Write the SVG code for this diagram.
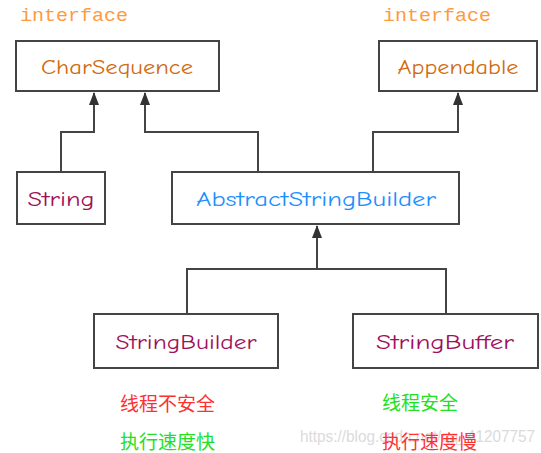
<svg xmlns="http://www.w3.org/2000/svg" width="541" height="453" viewBox="0 0 541 453">
<style>
.box{fill:#fff;stroke:#444;stroke-width:2}
.lbl{font-family:"Comic Neue","Liberation Sans","Noto Sans",sans-serif;font-size:21px;text-anchor:middle;dominant-baseline:central}
.iface{font-family:"Liberation Mono","DejaVu Sans Mono",monospace;font-size:19px;fill:#ff9a3c}
.ln{fill:none;stroke:#444;stroke-width:2}
.cn{font-family:"Noto Sans CJK SC",sans-serif;font-size:19px;dominant-baseline:central}
</style>
<defs>
<marker id="arr" viewBox="0 0 13 10" refX="12" refY="5" markerWidth="13" markerHeight="10" markerUnits="userSpaceOnUse" orient="auto">
<path d="M0,0 L13,5 L0,10 Z" fill="#333"/>
</marker>
</defs>
<rect width="541" height="453" fill="#fff"/>
<text x="300" y="436" font-family="Liberation Sans,sans-serif" font-size="16" fill="#d8d8d8" textLength="235" lengthAdjust="spacingAndGlyphs" dominant-baseline="central" opacity="0.9">https://blog.csdn.net/qq_41207757</text>
<g id="connectors">
<path class="ln" d="M61,172 V132 H94 V93" marker-end="url(#arr)"/>
<path class="ln" d="M258,172 V132 H145 V93" marker-end="url(#arr)"/>
<path class="ln" d="M373,172 V132 H458 V93" marker-end="url(#arr)"/>
<path class="ln" d="M187,314 V269 H446 V314"/>
<path class="ln" d="M317,269 V226" marker-end="url(#arr)"/>
</g>
<g id="CharSequence">
<text class="iface" x="20" y="21" textLength="108" lengthAdjust="spacingAndGlyphs">interface</text>
<rect class="box" x="16" y="41" width="203" height="50"/>
<text class="lbl" x="117" y="67" fill="#d06a10" textLength="152" lengthAdjust="spacingAndGlyphs">CharSequence</text>
</g>
<g id="Appendable">
<text class="iface" x="383" y="21" textLength="108" lengthAdjust="spacingAndGlyphs">interface</text>
<rect class="box" x="379" y="41" width="158" height="50"/>
<text class="lbl" x="458" y="67" fill="#d06a10" textLength="121" lengthAdjust="spacingAndGlyphs">Appendable</text>
</g>
<g id="String">
<rect class="box" x="17" y="172" width="88" height="52"/>
<text class="lbl" x="61" y="199" fill="#a0105a" textLength="67" lengthAdjust="spacingAndGlyphs">String</text>
</g>
<g id="AbstractStringBuilder">
<rect class="box" x="172" y="172" width="287" height="52"/>
<text class="lbl" x="316" y="199" fill="#1e8fff" textLength="240" lengthAdjust="spacingAndGlyphs">AbstractStringBuilder</text>
</g>
<g id="StringBuilder">
<rect class="box" x="94" y="314" width="184" height="54"/>
<text class="lbl" x="186" y="342" fill="#a0105a" textLength="141" lengthAdjust="spacingAndGlyphs">StringBuilder</text>
<text class="cn" x="120" y="402" fill="#ff3030">线程不安全</text>
<text class="cn" x="120" y="440" fill="#22e022">执行速度快</text>
</g>
<g id="StringBuffer">
<rect class="box" x="353" y="314" width="185" height="54"/>
<text class="lbl" x="445" y="342" fill="#a0105a" textLength="138" lengthAdjust="spacingAndGlyphs">StringBuffer</text>
<text class="cn" x="382" y="401" fill="#22e022">线程安全</text>
<text class="cn" x="382" y="440" fill="#ff3030">执行速度慢</text>
</g>
</svg>
